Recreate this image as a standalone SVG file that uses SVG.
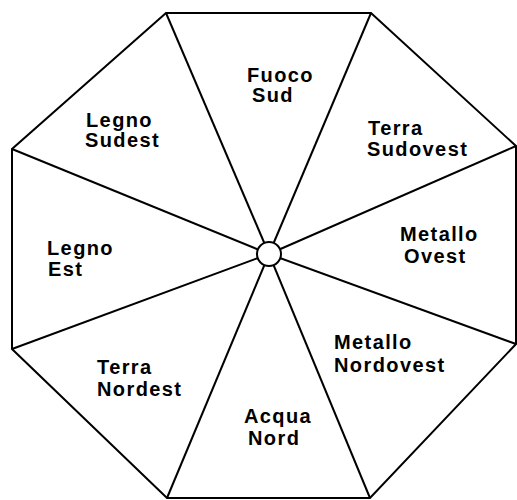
<svg xmlns="http://www.w3.org/2000/svg" width="517" height="500" viewBox="0 0 517 500">
<style>
.edge{stroke:#000;stroke-width:2;fill:none;stroke-linejoin:miter}
.lbl{font-family:"Liberation Sans",Arial,sans-serif;font-weight:bold;font-size:20px;letter-spacing:1.4px;fill:#000}
</style>
<rect width="517" height="500" fill="#fff"/>
<g id="connectors">
<polygon class="edge" points="166,13 371,13 516,146 516,344 370,498 167,498 12,349 12,149"/>
<line class="edge" x1="269" y1="254" x2="166" y2="13"/>
<line class="edge" x1="269" y1="254" x2="371" y2="13"/>
<line class="edge" x1="269" y1="254" x2="516" y2="146"/>
<line class="edge" x1="269" y1="254" x2="516" y2="344"/>
<line class="edge" x1="269" y1="254" x2="370" y2="498"/>
<line class="edge" x1="269" y1="254" x2="167" y2="498"/>
<line class="edge" x1="269" y1="254" x2="12" y2="349"/>
<line class="edge" x1="269" y1="254" x2="12" y2="149"/>
</g>
<g id="center"><circle cx="269" cy="254" r="12" fill="#fff" stroke="#000" stroke-width="2"/></g>
<g id="fuoco-sud"><text class="lbl" x="247" y="82">Fuoco</text><text class="lbl" x="252" y="102">Sud</text></g>
<g id="terra-sudovest"><text class="lbl" x="368" y="135">Terra</text><text class="lbl" x="367" y="156">Sudovest</text></g>
<g id="legno-sudest"><text class="lbl" x="86" y="127">Legno</text><text class="lbl" x="85" y="147">Sudest</text></g>
<g id="legno-est"><text class="lbl" x="47" y="255">Legno</text><text class="lbl" x="48" y="276">Est</text></g>
<g id="metallo-ovest"><text class="lbl" x="400" y="241">Metallo</text><text class="lbl" x="404" y="263">Ovest</text></g>
<g id="metallo-nordovest"><text class="lbl" x="334" y="349">Metallo</text><text class="lbl" x="334" y="372">Nordovest</text></g>
<g id="terra-nordest"><text class="lbl" x="97" y="374">Terra</text><text class="lbl" x="97" y="396">Nordest</text></g>
<g id="acqua-nord"><text class="lbl" x="244" y="423">Acqua</text><text class="lbl" x="248" y="445">Nord</text></g>
</svg>
